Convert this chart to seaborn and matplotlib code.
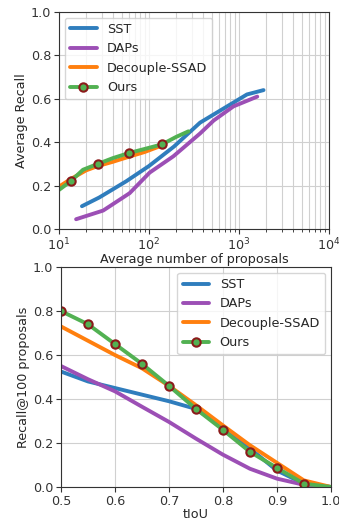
import numpy as np
import pandas as pd
import matplotlib
matplotlib.use("Agg")
import matplotlib.pyplot as plt
import seaborn as sns

# ---- data: top chart (AR vs average number of proposals) ----
sst_top_x = [18, 28, 56, 100, 190, 370, 740, 1230, 1880]
sst_top_y = [0.105, 0.145, 0.22, 0.29, 0.38, 0.49, 0.565, 0.62, 0.64]
daps_top_x = [15.5, 31, 61, 102, 187, 370, 525, 870, 1600]
daps_top_y = [0.045, 0.085, 0.165, 0.26, 0.335, 0.44, 0.50, 0.565, 0.61]
ssad_top_x = [10, 13.5, 20, 27, 40, 60, 90, 140]
ssad_top_y = [0.195, 0.23, 0.27, 0.29, 0.31, 0.333, 0.355, 0.385]
ours_top_x = [10, 13.5, 18.5, 27, 40, 60, 90, 140, 200, 275]
ours_top_y = [0.18, 0.22, 0.273, 0.30, 0.327, 0.35, 0.369, 0.39, 0.424, 0.45]
ours_top_marks = [1, 3, 5, 7]

# ---- data: bottom chart (Recall@100 vs tIoU) ----
tiou = [0.5, 0.55, 0.6, 0.65, 0.7, 0.75, 0.8, 0.85, 0.9, 0.95, 1.0]
sst_bot = [0.525, 0.48, 0.45, 0.42, 0.39, 0.355, 0.27, 0.175, 0.075, 0.015, 0.0]
daps_bot = [0.55, 0.49, 0.435, 0.365, 0.296, 0.22, 0.147, 0.083, 0.038, 0.01, 0.0]
ssad_bot = [0.73, 0.665, 0.60, 0.54, 0.46, 0.372, 0.28, 0.19, 0.11, 0.03, 0.0]
ours_bot = [0.80, 0.74, 0.65, 0.56, 0.46, 0.355, 0.26, 0.16, 0.087, 0.015, 0.0]
ours_bot_marks = list(range(10))

names = ["SST", "DAPs", "Decouple-SSAD", "Ours"]
colors = {"SST": "#2f7dbd", "DAPs": "#9c4fb5", "Decouple-SSAD": "#ff7f0e", "Ours": "#52b152"}

sns.set_style("ticks")
plt.rcParams["font.family"] = ["DejaVu Sans"]
fs = 9.2
plt.rcParams["font.size"] = fs

fig = plt.figure(figsize=(3.39, 5.21), dpi=100)
ax1 = fig.add_axes([0.174, 0.5605, 0.796, 0.4165])
ax2 = fig.add_axes([0.180, 0.0653, 0.796, 0.422])

lw = 2.8
mk = dict(marker="o", markersize=6, markerfacecolor="#52b152",
          markeredgecolor="#8b1a1a", markeredgewidth=1.5)

top = [(sst_top_x, sst_top_y), (daps_top_x, daps_top_y),
       (ssad_top_x, ssad_top_y), (ours_top_x, ours_top_y)]
for name, (xs, ys) in zip(names, top):
    kw = dict(mk, markevery=ours_top_marks) if name == "Ours" else {}
    sns.lineplot(x=xs, y=ys, ax=ax1, color=colors[name], linewidth=lw,
                 label=name, **kw)

bot = [sst_bot, daps_bot, ssad_bot, ours_bot]
for name, ys in zip(names, bot):
    kw = dict(mk, markevery=ours_bot_marks) if name == "Ours" else {}
    sns.lineplot(x=tiou, y=ys, ax=ax2, color=colors[name], linewidth=lw,
                 label=name, **kw)

ax1.set_xscale("log")
ax1.set_xlim(10, 1e4)
ax1.set_ylim(0, 1.0)
ax1.set_yticks(np.arange(0, 1.01, 0.2))
ax1.grid(True, which="both", color="#d0d0d0", linewidth=0.8)
ax1.set_xlabel("Average number of proposals", fontsize=fs, labelpad=0)
ax1.set_ylabel("Average Recall", fontsize=fs, labelpad=2)
ax1.legend(loc="upper left", fontsize=fs, handlelength=2.1, framealpha=0.8,
           borderaxespad=0.45)

ax2.set_xlim(0.5, 1.0)
ax2.set_ylim(0, 1.0)
ax2.set_yticks(np.arange(0, 1.01, 0.2))
ax2.set_xticks(np.arange(0.5, 1.01, 0.1))
ax2.grid(True, color="#d0d0d0", linewidth=0.8)
ax2.set_xlabel("tIoU", fontsize=fs, labelpad=0)
ax2.set_ylabel("Recall@100 proposals", fontsize=fs, labelpad=2)
ax2.legend(loc="upper right", fontsize=fs, handlelength=2.1, framealpha=0.8,
           borderaxespad=0.45)

for ax in (ax1, ax2):
    for s in ax.spines.values():
        s.set_color("#333333")
        s.set_linewidth(0.8)
    ax.tick_params(labelsize=fs, colors="#333333", pad=2)
    ax.set_axisbelow(True)

fig.savefig("out.png", dpi=100)
